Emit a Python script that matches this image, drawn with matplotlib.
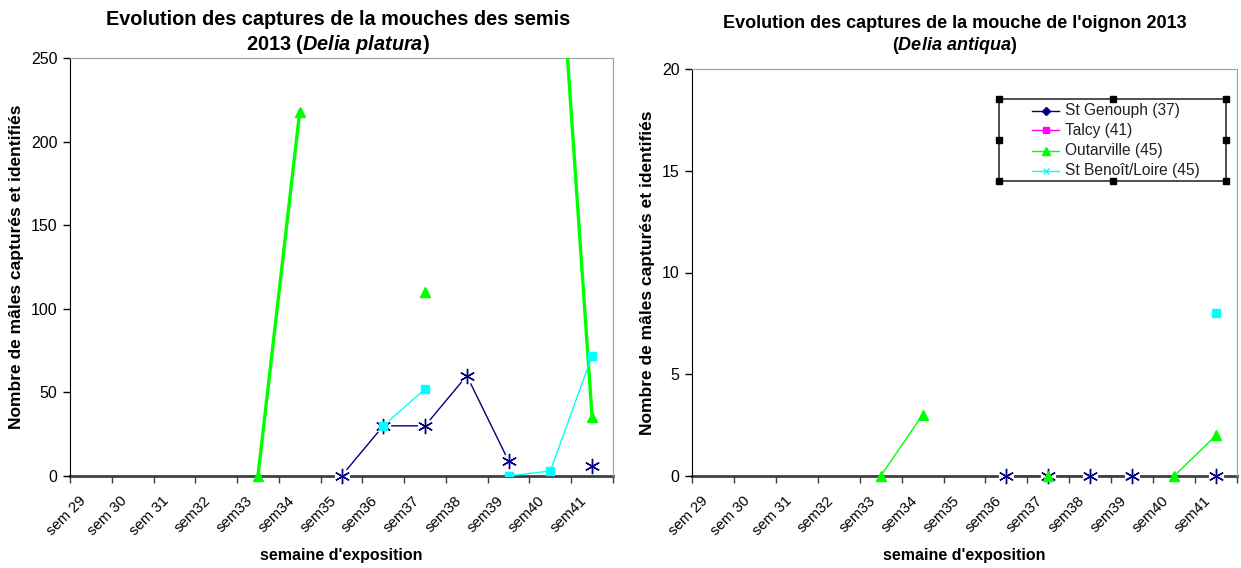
import numpy as np
import matplotlib
matplotlib.use("Agg")
import matplotlib.pyplot as plt
from matplotlib.lines import Line2D
from matplotlib.patches import Rectangle

plt.rcParams["font.family"] = ["Liberation Sans", "DejaVu Sans"]
plt.rcParams["mathtext.fontset"] = "custom"
plt.rcParams["mathtext.it"] = "Liberation Sans:italic:bold"
plt.rcParams["mathtext.rm"] = "Liberation Sans:bold"

WEEKS = ["sem 29", "sem 30", "sem 31", "sem32", "sem33", "sem34", "sem35",
         "sem36", "sem37", "sem38", "sem39", "sem40", "sem41"]
nan = np.nan

# Delia platura (left)
PLAT_GENOUPH = [nan, nan, nan, nan, nan, nan, 0, 30, 30, 60, 9, nan, 6]
PLAT_TALCY = [nan] * 13
PLAT_OUTARVILLE = [nan, nan, nan, nan, 0, 218, nan, nan, 110, nan, nan, 400, 35]
PLAT_BENOIT = [nan, nan, nan, nan, nan, nan, nan, 30, 52, nan, 0, 3, 72]

# Delia antiqua (right)
ANT_GENOUPH = [nan, nan, nan, nan, nan, nan, nan, 0, 0, 0, 0, nan, 0]
ANT_TALCY = [nan] * 13
ANT_OUTARVILLE = [nan, nan, nan, nan, 0, 3, nan, nan, 0, nan, nan, 0, 2]
ANT_BENOIT = [nan, nan, nan, nan, nan, nan, nan, nan, nan, nan, nan, nan, 8]

LEGEND_LABELS = ["St Genouph (37)", "Talcy (41)", "Outarville (45)", "St Benoît/Loire (45)"]

NAVY = "#000080"
MAGENTA = "#ff00ff"
GREEN = "#00ff00"
CYAN = "#00ffff"

W, H = 1241, 568
fig = plt.figure(figsize=(W / 100, H / 100), dpi=100)
ax1 = fig.add_axes([70 / W, 1 - 476 / H, 543 / W, 418 / H])
ax2 = fig.add_axes([692 / W, 1 - 476 / H, 545 / W, 407 / H])


def draw_series(ax, genouph, talcy, outar, benoit, green_lw):
    x = np.arange(len(WEEKS)) + 0.5
    ax.plot(x, talcy, color=MAGENTA, marker="s", ms=6, lw=1)
    ax.plot(x, outar, color=GREEN, lw=green_lw, zorder=3)
    ax.plot(x, benoit, color=CYAN, lw=1, zorder=3)
    # navy line, white halo under asterisk markers
    ax.plot(x, genouph, color=NAVY, lw=1, zorder=2)
    ax.plot(x, genouph, ls="none", marker="o", ms=11, mfc="white", mec="none",
            zorder=4, clip_on=False)
    ax.plot(x, genouph, ls="none", marker=(6, 2, 0), ms=11, mec=NAVY, mew=1,
            zorder=5, clip_on=False)
    ax.plot(x, benoit, ls="none", color=CYAN, marker="s", ms=6, zorder=6)
    ax.plot(x, outar, ls="none", color=GREEN, marker="^", ms=7, zorder=6, clip_on=False)


def style_axes(ax, ymax, ystep):
    n = len(WEEKS)
    ax.set_xlim(0, n)
    ax.set_ylim(0, ymax)
    ax.set_yticks(np.arange(0, ymax + 1, ystep))
    ax.set_xticks(np.arange(0, n + 1), minor=True)
    # label anchors sit a bit left of the category centre, like Excel
    ax.set_xticks(np.arange(n) + 0.2)
    ax.set_xticklabels(WEEKS, rotation=45, ha="right", rotation_mode="anchor",
                       fontsize=10.7)
    ax.tick_params(axis="x", which="major", length=0, pad=13)
    ax.tick_params(axis="x", which="minor", length=5, width=1, color="#404040",
                   direction="out")
    ax.tick_params(axis="y", length=5, width=1, direction="out", labelsize=11.5,
                   pad=4)
    ax.spines["left"].set_color("black")
    ax.spines["bottom"].set_color("#404040")
    ax.spines["bottom"].set_linewidth(2)
    ax.spines["bottom"].set_zorder(1)
    ax.spines["top"].set_color("#a0a0a0")
    ax.spines["right"].set_color("#a0a0a0")
    ax.set_xlabel("semaine d'exposition", fontweight="bold", fontsize=11.5, labelpad=7)
    ax.set_ylabel("Nombre de mâles capturés et identifiés", fontweight="bold",
                  fontsize=12.5, labelpad=5)


draw_series(ax1, PLAT_GENOUPH, PLAT_TALCY, PLAT_OUTARVILLE, PLAT_BENOIT, 2.4)
draw_series(ax2, ANT_GENOUPH, ANT_TALCY, ANT_OUTARVILLE, ANT_BENOIT, 1)
style_axes(ax1, 250, 50)
style_axes(ax2, 20, 5)

fig.text(338 / W, 1 - 33 / H,
         "Evolution des captures de la mouches des semis\n2013 ($\\it{Delia\\ platura}$)",
         ha="center", va="center", fontsize=14.3, fontweight="bold", linespacing=1.2)
fig.text(955 / W, 1 - 36 / H,
         "Evolution des captures de la mouche de l'oignon 2013\n($\\it{Delia\\ antiqua}$)",
         ha="center", va="center", fontsize=13, fontweight="bold", linespacing=1.2)

# legend box drawn by hand (selected Excel legend, with handles)
lx0, lx1, ly0, ly1 = 999, 1226, 99, 181
fig.add_artist(Rectangle((lx0 / W, 1 - ly1 / H), (lx1 - lx0) / W, (ly1 - ly0) / H,
                         transform=fig.transFigure, fill=False, ec="#404040", lw=1.3))
leg_styles = [(NAVY, "D", 4), (MAGENTA, "s", 5), (GREEN, "^", 6), (CYAN, "x", 4)]
for i, (label, (col, mk, ms)) in enumerate(zip(LEGEND_LABELS, leg_styles)):
    yy = 1 - (110.5 + 20 * i) / H
    fig.add_artist(Line2D([1032 / W, 1059 / W], [yy, yy], color=col, lw=1,
                          transform=fig.transFigure))
    fig.add_artist(Line2D([1045.5 / W], [yy], color=col, marker=mk, ms=ms, mew=1,
                          transform=fig.transFigure))
    fig.text(1065 / W, yy, label, fontsize=11.2, va="center", ha="left", color="#202020")
for hx in (lx0, (lx0 + lx1) / 2, lx1):
    for hy in (ly0, (ly0 + ly1) / 2, ly1):
        if hx == (lx0 + lx1) / 2 and hy == (ly0 + ly1) / 2:
            continue
        fig.add_artist(Line2D([hx / W], [1 - hy / H], marker="s", ms=4, color="black",
                              transform=fig.transFigure))

fig.savefig("out.png", dpi=100)
